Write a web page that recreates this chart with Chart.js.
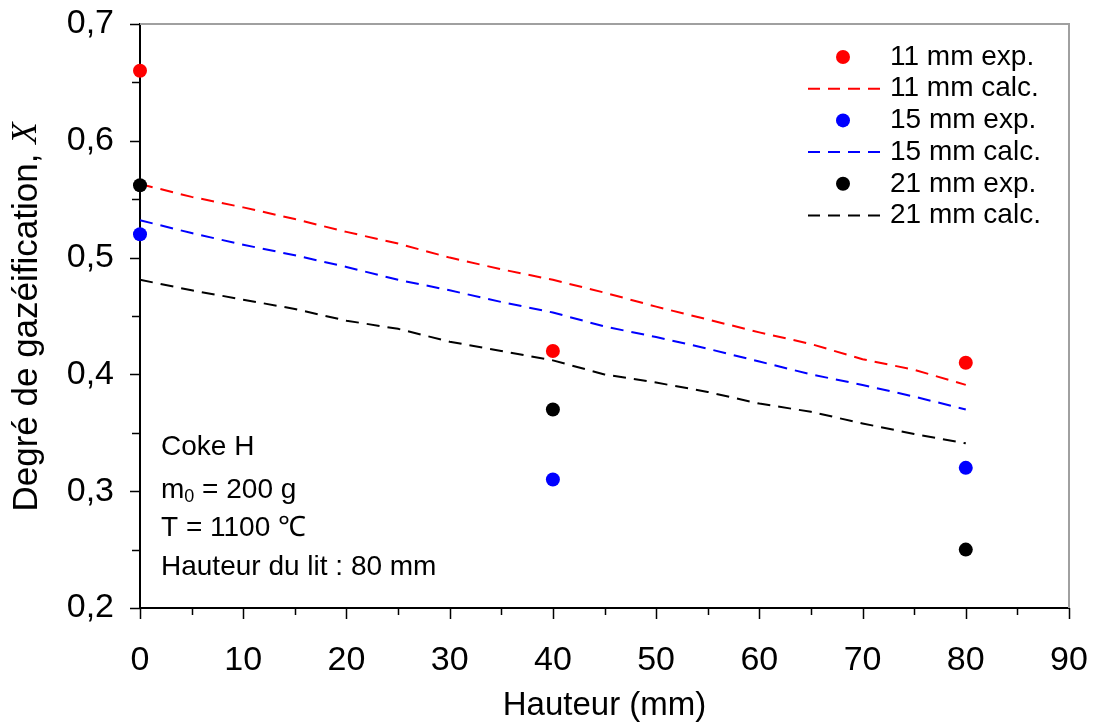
<!DOCTYPE html>
<html>
<head>
<meta charset="utf-8">
<title>Degré de gazéification</title>
<script src="https://cdn.jsdelivr.net/npm/chart.js@4/dist/chart.umd.min.js"></script>
<style>
  html, body { margin: 0; padding: 0; background: #fff; }
</style>
</head>
<body>
<canvas id="gazChart" width="1098" height="722"></canvas>
<script>
// Hauteur (mm) for the calculated curves
const hauteurCalc = [0, 5, 10, 15, 20, 25, 30, 35, 40, 45, 50, 55, 60, 65, 70, 75, 80];
const calc11 = [0.563, 0.552, 0.543, 0.533, 0.522, 0.512, 0.500, 0.490, 0.481, 0.470, 0.458, 0.447, 0.436, 0.426, 0.413, 0.404, 0.391];
const calc15 = [0.532, 0.521, 0.511, 0.502, 0.492, 0.481, 0.472, 0.462, 0.453, 0.441, 0.432, 0.422, 0.411, 0.400, 0.391, 0.381, 0.370];
const calc21 = [0.481, 0.472, 0.464, 0.456, 0.446, 0.439, 0.428, 0.420, 0.412, 0.400, 0.393, 0.385, 0.375, 0.368, 0.358, 0.349, 0.341];

// Experimental points
const hauteurExp = [0, 40, 80];
const exp11 = [0.66, 0.42, 0.41];
const exp15 = [0.52, 0.31, 0.32];
const exp21 = [0.562, 0.37, 0.25];

// Axis ticks
const xTicks = [0, 10, 20, 30, 40, 50, 60, 70, 80, 90];
const yTicks = [0.2, 0.3, 0.4, 0.5, 0.6, 0.7];

const FONT = 'Liberation Sans, Arial, sans-serif';

function toPoints(xs, ys) {
    return xs.map((x, i) => ({ x: x, y: ys[i] }));
}

function expSet(label, color, ys) {
    return {
        label: label,
        data: toPoints(hauteurExp, ys),
        showLine: false,
        pointRadius: 7,
        pointBackgroundColor: color,
        pointBorderWidth: 0,
        pointHoverRadius: 7,
        clip: false,
        order: 0
    };
}

function calcSet(label, color, ys) {
    return {
        label: label,
        data: toPoints(hauteurCalc, ys),
        showLine: true,
        borderColor: color,
        borderWidth: 2,
        borderDash: [13, 8],
        pointRadius: 0,
        fill: false,
        tension: 0,
        clip: false,
        order: 1
    };
}

// tick marks (major + minor), drawn outward from the axes
const tickMarks = {
    id: 'tickMarks',
    afterDraw(chart) {
        const c = chart.ctx, a = chart.chartArea;
        const xs = chart.scales.x, ys = chart.scales.y;
        c.save();
        c.strokeStyle = '#000';
        c.lineWidth = 1.5;
        c.beginPath();
        xTicks.forEach((v, i) => {
            let px = Math.round(xs.getPixelForValue(v)) + 0.5;
            c.moveTo(px, a.bottom); c.lineTo(px, a.bottom + 11);
            if (i < xTicks.length - 1) {
                let mx = Math.round(xs.getPixelForValue((v + xTicks[i + 1]) / 2)) + 0.5;
                c.moveTo(mx, a.bottom); c.lineTo(mx, a.bottom + 7);
            }
        });
        yTicks.forEach((v, i) => {
            let py = Math.round(ys.getPixelForValue(v)) + 0.5;
            c.moveTo(a.left, py); c.lineTo(a.left - 10, py);
            if (i < yTicks.length - 1) {
                let my = Math.round(ys.getPixelForValue((v + yTicks[i + 1]) / 2)) + 0.5;
                c.moveTo(a.left, my); c.lineTo(a.left - 8, my);
            }
        });
        c.stroke();
        // grey frame on top and right
        c.strokeStyle = '#a0a0a0';
        c.lineWidth = 2;
        c.beginPath();
        c.moveTo(a.left, a.top); c.lineTo(a.right, a.top); c.lineTo(a.right, a.bottom);
        c.stroke();
        c.restore();
    }
};

// y title with italic X
const yTitle = {
    id: 'yTitle',
    afterDraw(chart) {
        const c = chart.ctx;
        const main = 'Degré de gazéification, ';
        const serif = 'italic 35px Liberation Serif, Times New Roman, serif';
        c.save();
        c.translate(27, 317);
        c.rotate(-Math.PI / 2);
        c.fillStyle = '#000';
        c.textBaseline = 'middle';
        c.font = '35px ' + FONT;
        const w1 = c.measureText(main).width;
        c.font = serif;
        const w2 = c.measureText('X').width;
        let x0 = -(w1 + w2) / 2;
        c.font = '35px ' + FONT;
        c.textAlign = 'left';
        c.fillText(main, x0, 0);
        c.font = serif;
        c.fillText('X', x0 + w1, 0);
        c.restore();
    }
};

// legend in the upper right corner
const legendBox = {
    id: 'legendBox',
    afterDraw(chart) {
        const c = chart.ctx;
        c.save();
        c.font = '28px ' + FONT;
        c.textBaseline = 'middle';
        c.textAlign = 'left';
        chart.data.datasets.forEach((ds, i) => {
            const y = 57 + i * 31.7;
            if (ds.showLine) {
                c.strokeStyle = ds.borderColor;
                c.lineWidth = 2;
                c.setLineDash([12, 8]);
                c.beginPath();
                c.moveTo(808, y); c.lineTo(880, y);
                c.stroke();
                c.setLineDash([]);
            } else {
                c.fillStyle = ds.pointBackgroundColor;
                c.beginPath();
                c.arc(843, y, 7, 0, Math.PI * 2);
                c.fill();
            }
            c.fillStyle = '#000';
            c.fillText(ds.label, 890, y);
        });
        c.restore();
    }
};

// text block (bottom left of plot)
const notes = {
    id: 'notes',
    afterDraw(chart) {
        const c = chart.ctx;
        c.save();
        c.fillStyle = '#000';
        c.textBaseline = 'middle';
        c.textAlign = 'left';
        c.font = '28px ' + FONT;
        c.fillText('Coke H', 161, 447);
        // m0 with subscript
        let x = 161;
        c.fillText('m', x, 490);
        x += c.measureText('m').width;
        c.font = '18px ' + FONT;
        c.fillText('0', x, 497);
        x += c.measureText('0').width;
        c.font = '28px ' + FONT;
        c.fillText(' = 200 g', x, 490);
        c.fillText('T = 1100 \u2103', 161, 528);
        c.fillText('Hauteur du lit : 80 mm', 161, 567);
        c.restore();
    }
};

const ctx = document.getElementById('gazChart').getContext('2d');
const gazChart = new Chart(ctx, {
    type: 'scatter',
    data: {
        datasets: [
            expSet('11 mm exp.', '#ff0000', exp11),
            calcSet('11 mm calc.', '#ff0000', calc11),
            expSet('15 mm exp.', '#0000ff', exp15),
            calcSet('15 mm calc.', '#0000ff', calc15),
            expSet('21 mm exp.', '#000000', exp21),
            calcSet('21 mm calc.', '#000000', calc21)
        ]
    },
    options: {
        responsive: false,
        animation: false,
        devicePixelRatio: 1,
        layout: { padding: { top: 24, right: 29, left: 0, bottom: 0 } },
        plugins: {
            legend: { display: false },
            tooltip: { enabled: false }
        },
        scales: {
            x: {
                type: 'linear',
                min: 0,
                max: 90,
                afterFit: s => { s.height = 114; s.paddingLeft = 0; s.paddingRight = 0; },
                afterBuildTicks: s => { s.ticks = xTicks.map(v => ({ value: v })); },
                ticks: {
                    font: { family: FONT, size: 34 },
                    color: '#000',
                    padding: 32,
                    maxRotation: 0
                },
                grid: { drawOnChartArea: false, drawTicks: false },
                border: { color: '#000', width: 2 },
                title: {
                    display: true,
                    text: 'Hauteur (mm)',
                    font: { family: FONT, size: 33, lineHeight: 1 },
                    color: '#000',
                    padding: { top: 0, bottom: 0 }
                }
            },
            y: {
                type: 'linear',
                min: 0.2,
                max: 0.7,
                afterFit: s => { s.width = 140; s.paddingTop = 0; s.paddingBottom = 0; },
                afterBuildTicks: s => { s.ticks = yTicks.map(v => ({ value: v })); },
                ticks: {
                    font: { family: FONT, size: 34 },
                    color: '#000',
                    padding: 26,
                    callback: v => v.toFixed(1).replace('.', ',')
                },
                grid: { drawOnChartArea: false, drawTicks: false },
                border: { color: '#000', width: 2 }
            }
        }
    },
    plugins: [tickMarks, yTitle, legendBox, notes]
});
</script>
</body>
</html>
